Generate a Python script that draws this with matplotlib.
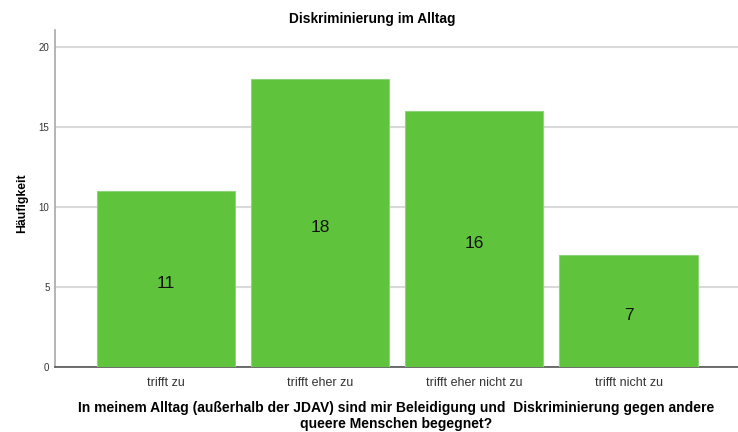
import matplotlib
matplotlib.use("Agg")
import matplotlib.pyplot as plt

categories = ["trifft zu", "trifft eher zu", "trifft eher nicht zu", "trifft nicht zu"]
counts = [11, 18, 16, 7]
yticks = [0, 5, 10, 15, 20]
title = "Diskriminierung im Alltag"
ylabel = "Häufigkeit"
xlabel = "In meinem Alltag (außerhalb der JDAV) sind mir Beleidigung und  Diskriminierung gegen andere\nqueere Menschen begegnet?"

plt.rcParams['font.family'] = ['Liberation Sans', 'DejaVu Sans']

fig = plt.figure(figsize=(7.38, 4.32), dpi=100)
ax = fig.add_axes([55/738, 1-367/432, 1-55/738, (367-30)/432])

x = list(range(len(categories)))
ax.bar(x, counts, width=0.896, color='#5FC33B', edgecolor='#8FD37C', linewidth=0.8, zorder=3)
for xi, c in zip(x, counts):
    ax.text(xi, c/2 - 0.3, str(c), ha='center', va='center', fontsize=12.5, color='#111111', zorder=4)

ax.set_xlim(-0.72, 3.71)
ax.set_ylim(0, 21.06)
ax.set_yticks(yticks)
ax.set_xticks(x)
ax.set_xticklabels(categories, fontsize=9, color='#333333')
ax.tick_params(axis='y', length=0, labelsize=7, pad=4, labelcolor='#333333')
ax.tick_params(axis='x', length=0, pad=7.5)
ax.yaxis.grid(True, color='#D9D9D9', linewidth=1.5, zorder=0)
ax.set_axisbelow(True)
for s in ['top', 'right']:
    ax.spines[s].set_visible(False)
ax.spines['left'].set_color('#A8A8A8')
ax.spines['left'].set_linewidth(1.2)
ax.spines['bottom'].set_color('#555555')
ax.spines['bottom'].set_linewidth(1.2)

ax.set_ylabel(ylabel, fontsize=8.8, fontweight='bold')
ax.yaxis.set_label_coords(-0.039, 0.485)
ax.set_xlabel(xlabel, fontsize=10, fontweight='bold', linespacing=1.12, labelpad=8.5)

fig.text(372/738, 1-19/432, title, ha='center', va='center', fontsize=9.9, fontweight='bold')

fig.savefig("out.png", dpi=100)
